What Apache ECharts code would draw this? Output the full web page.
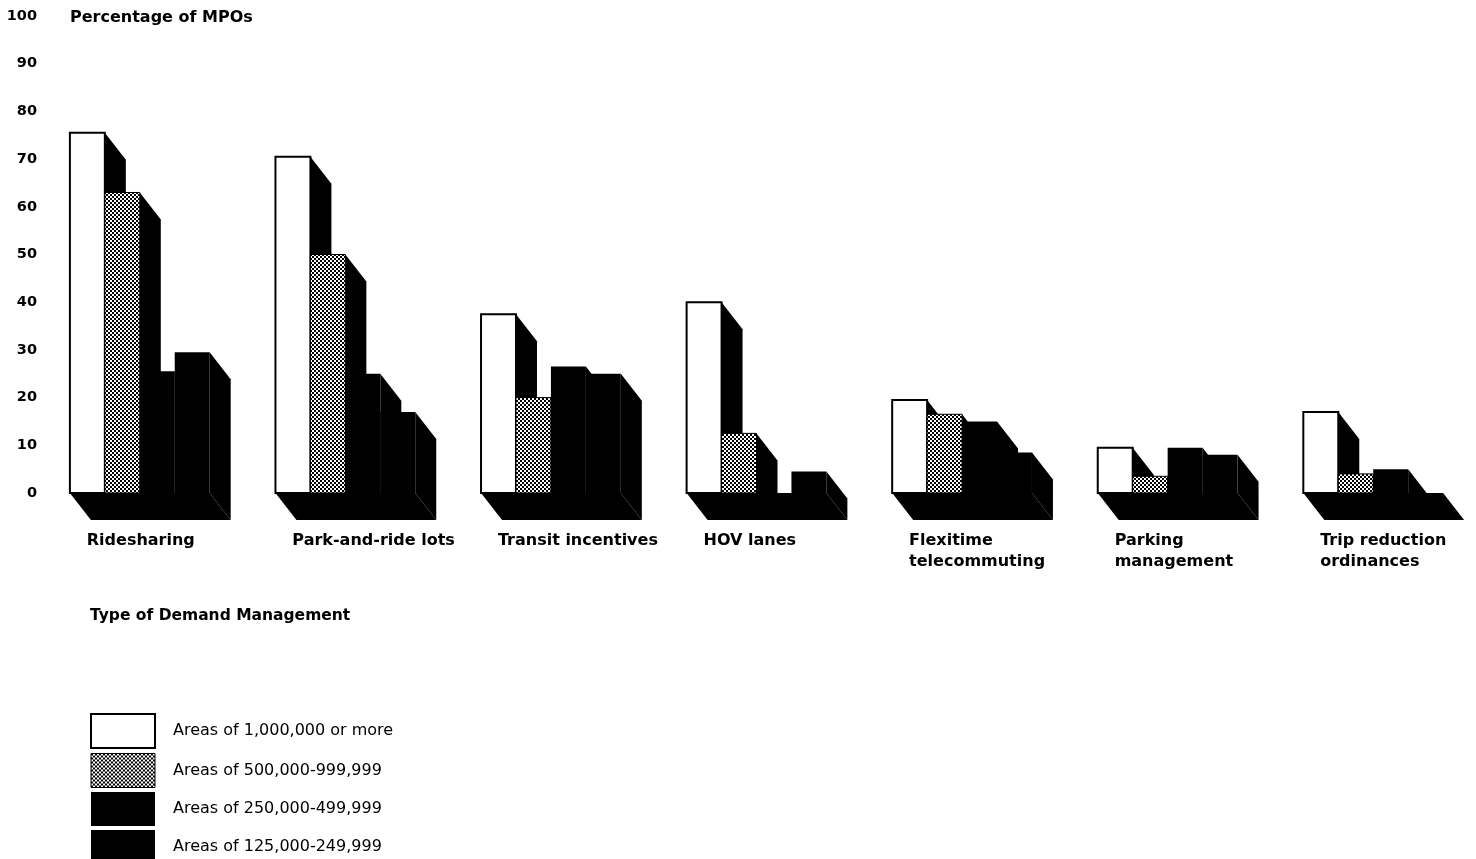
<!DOCTYPE html>
<html>
<head>
<meta charset="utf-8">
<script src="https://cdn.jsdelivr.net/npm/echarts@6/dist/echarts.min.js"></script>
<style>
  html, body { margin: 0; padding: 0; background: #fff; }
  #chart { width: 1476px; height: 859px; }
</style>
</head>
<body>
<div id="chart"></div>
<script>
// Demand management measures used by MPOs, by size of area (percent of MPOs)
const categories = [
  'Ridesharing',
  'Park-and-ride lots',
  'Transit incentives',
  'HOV lanes',
  'Flexitime\ntelecommuting',
  'Parking\nmanagement',
  'Trip reduction\nordinances'
];
const seriesNames = [
  'Areas of 1,000,000 or more',
  'Areas of 500,000-999,999',
  'Areas of 250,000-499,999',
  'Areas of 125,000-249,999'
];
const areas1M   = [75.5, 70.5, 37.5, 40, 19.5, 9.5, 17];
const areas500k = [63, 50, 20, 12.5, 16.5, 3.5, 4];
const areas250k = [25.5, 25, 26.5, 0, 15, 9.5, 5];
const areas125k = [29.5, 17, 25, 4.5, 8.5, 8, 0];

const FONT = 'DejaVu Sans';
const BAR_FRACTION = 0.17;   // width of one bar as a share of a category band
const DX = 21, DY = 27;      // depth offset of the shaded faces

// fine checker used for the 500,000-999,999 group
function checker() {
  const c = document.createElement('canvas');
  c.width = 4; c.height = 4;
  const g = c.getContext('2d');
  g.fillStyle = '#fff'; g.fillRect(0, 0, 4, 4);
  g.fillStyle = '#000';
  g.fillRect(0, 0, 2, 2);
  g.fillRect(2, 2, 2, 2);
  return { image: c, repeat: 'repeat' };
}
const checkerFill = checker();

const fills = ['#fff', checkerFill, '#000', '#000'];
const strokeWidths = [2, 1, 0, 0];

function barRenderer(slot) {
  return function (params, api) {
    const cat = api.value(0);
    const val = api.value(1);
    const base = api.coord([cat, 0]);
    const top = api.coord([cat, val]);
    const band = api.size([1, 0])[0];
    const w = band * BAR_FRACTION;
    const x0 = base[0] - 2 * w + slot * w;
    const x1 = x0 + w;
    const h = base[1] - top[1];
    const children = [{
      type: 'polygon',
      shape: { points: [[x1, top[1]], [x1 + DX, top[1] + DY], [x1 + DX, base[1] + DY], [x1, base[1]]] },
      style: { fill: '#000' }
    }];
    if (h > 0) {
      children.push({
        type: 'rect',
        shape: { x: x0, y: top[1], width: w, height: h },
        style: { fill: fills[slot], stroke: strokeWidths[slot] ? '#000' : null, lineWidth: strokeWidths[slot] }
      });
    }
    return { type: 'group', children: children };
  };
}

function floorRenderer(params, api) {
  const cat = api.value(0);
  const base = api.coord([cat, 0]);
  const band = api.size([1, 0])[0];
  const w = band * BAR_FRACTION;
  const L = base[0] - 2 * w, R = base[0] + 2 * w, y = base[1];
  return {
    type: 'polygon',
    shape: { points: [[L, y], [R, y], [R + DX, y + DY], [L + DX, y + DY]] },
    style: { fill: '#000' }
  };
}

const valueSets = [areas1M, areas500k, areas250k, areas125k];
const series = [{
  type: 'custom',
  name: 'floor',
  renderItem: floorRenderer,
  data: categories.map((c, i) => [i, 0]),
  encode: { x: 0, y: 1 },
  silent: true
}];
valueSets.forEach((vals, s) => {
  series.push({
    type: 'custom',
    name: seriesNames[s],
    renderItem: barRenderer(s),
    itemStyle: { color: fills[s], borderColor: '#000', borderWidth: strokeWidths[s] },
    data: vals.map((v, i) => [i, v]),
    encode: { x: 0, y: 1 }
  });
});

const legendStyles = [
  { color: '#fff', borderColor: '#000', borderWidth: 2 },
  { color: checkerFill, borderColor: '#000', borderWidth: 1 },
  { color: '#000', borderWidth: 0 },
  { color: '#000', borderWidth: 0 }
];

const chart = echarts.init(document.getElementById('chart'), null, { renderer: 'canvas' });
chart.setOption({
  animation: false,
  backgroundColor: '#fff',
  title: [
    { text: 'Percentage of MPOs', left: 70, top: 10, padding: 0,
      textStyle: { fontFamily: FONT, fontWeight: 'bold', fontSize: 16, color: '#000' } },
    { text: 'Type of Demand Management', left: 90, top: 608, padding: 0,
      textStyle: { fontFamily: FONT, fontWeight: 'bold', fontSize: 15.5, color: '#000' } }
  ],
  legend: {
    orient: 'vertical',
    left: 90, top: 713,
    padding: 0,
    height: 220,
    itemWidth: 64, itemHeight: 34, itemGap: 4,
    icon: 'rect',
    selectedMode: false,
    textStyle: { fontFamily: FONT, fontSize: 16, color: '#000', padding: [0, 0, 0, 13] },
    data: seriesNames.map((n, i) => ({ name: n, itemStyle: legendStyles[i] }))
  },
  grid: { left: 37, top: 16, width: 1447, height: 477, containLabel: false },
  xAxis: {
    type: 'category',
    data: categories,
    axisLine: { show: false },
    axisTick: { show: false },
    splitLine: { show: false },
    axisLabel: {
      margin: 37,
      interval: 0,
      align: 'center',
      formatter: v => v.split('\n').map(t => '{a|' + t + '}').join('\n'),
      rich: {
        a: { width: 106, align: 'left', fontFamily: FONT, fontWeight: 'bold', fontSize: 16, lineHeight: 21, color: '#000' }
      }
    }
  },
  yAxis: {
    type: 'value',
    min: 0, max: 100, interval: 10,
    axisLine: { show: false },
    axisTick: { show: false },
    splitLine: { show: false },
    axisLabel: { margin: 0, fontFamily: FONT, fontWeight: 'bold', fontSize: 14.5, color: '#000' }
  },
  series: series
});
</script>
</body>
</html>
